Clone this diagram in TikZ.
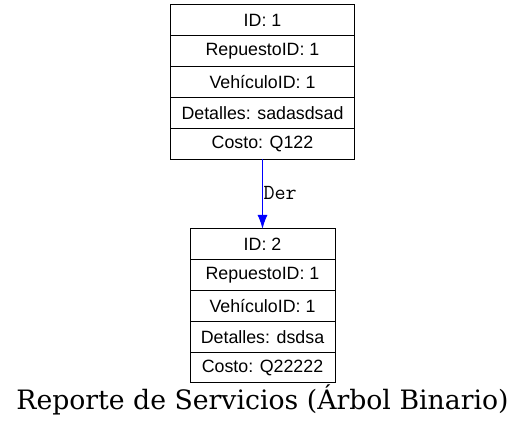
\documentclass[tikz,border=0pt]{standalone}
\usepackage{fontspec}
\setmainfont{DejaVu Serif}
\newfontfamily\recfont{Liberation Sans}
\usetikzlibrary{arrows.meta,positioning}
\tikzset{%
  >={Latex[width=10pt,length=14pt]},
  % Specifications for style of nodes:
      campo/.style = {rectangle, draw=black, line width=1pt, outer sep=0pt,
                      inner sep=0pt, minimum height=30.8pt, text centered,
                      font=\recfont\fontsize{17.8}{20}\selectfont},
     campoA/.style = {campo, minimum width=184pt},
     campoB/.style = {campo, minimum width=145pt},
     enlace/.style = {-{Latex[width=10pt,length=14pt]}, draw=blue,
                      fill=blue, line width=1pt},
}

\begin{document}
\begin{tikzpicture}[x=1pt, y=-1pt]
\useasboundingbox (0,0) rectangle (525,428);

\node (A1)     [campoA] at (262.5,20.4)   {ID: 1};
\node (A2)     [campoA, below=0pt of A1]  {RepuestoID: 1};
\node (A3)     [campoA, below=0pt of A2]  {VehículoID: 1};
\node (A4)     [campoA, below=0pt of A3]  {Detalles: sadasdsad};
\node (A5)     [campoA, below=0pt of A4]  {Costo: Q122};

\node (B1)     [campoB] at (262.5,244.3)  {ID: 2};
\node (B2)     [campoB, below=0pt of B1]  {RepuestoID: 1};
\node (B3)     [campoB, below=0pt of B2]  {VehículoID: 1};
\node (B4)     [campoB, below=0pt of B3]  {Detalles: dsdsa};
\node (B5)     [campoB, below=0pt of B4]  {Costo: Q22222};

\draw[enlace]  (A5) -- node[right, inner sep=0.5pt, text=black,
    font=\ttfamily\fontsize{21.5}{24}\selectfont, yshift=1pt] {Der} (B1);

\node (titulo) at (262.5,400) {\fontsize{26.7}{30}\selectfont Reporte de Servicios (Árbol Binario)};
\end{tikzpicture}
\end{document}
